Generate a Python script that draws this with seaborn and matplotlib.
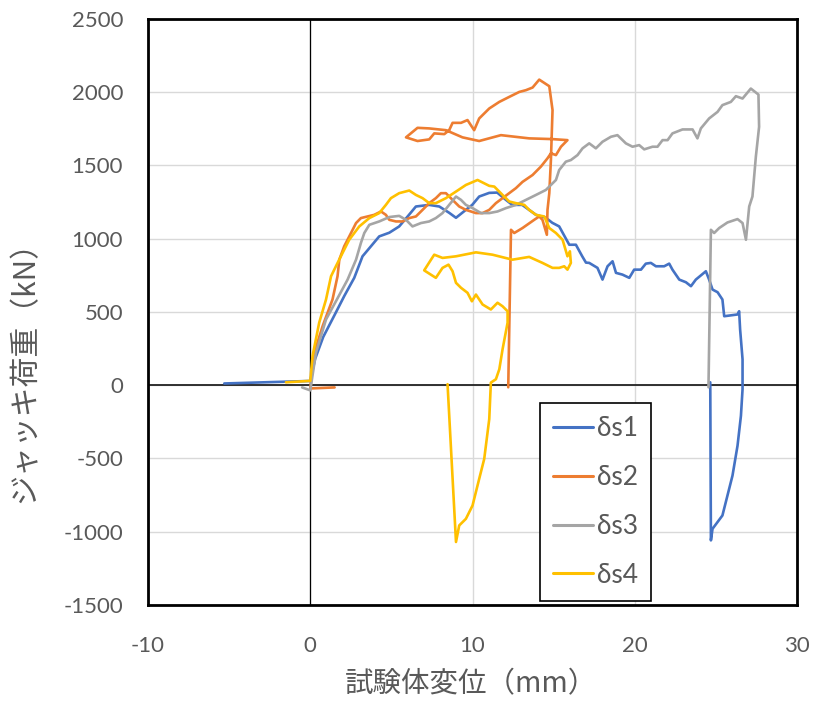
import matplotlib
matplotlib.use('Agg')
import matplotlib.pyplot as plt
import seaborn as sns
import numpy as np
import pandas as pd

# displacement (mm) / jack load (kN)
s1_x = [-5.3, -0.06, 0.0, 0.3, 0.8, 1.5, 2.1, 2.71, 3.22, 4.25, 4.87, 5.48, 6.0, 6.51, 7.33, 7.95, 8.56, 8.98,
        9.59, 9.98, 10.41, 11.03, 11.52, 12.06, 12.45, 13.06, 13.91, 14.52, 14.91, 15.34, 15.96, 16.37, 16.76,
        16.99, 17.19, 17.70, 18.01, 18.32, 18.63, 18.84, 19.24, 19.66, 19.96, 20.38, 20.68, 20.99, 21.30, 21.81,
        22.12, 22.32, 22.74, 23.15, 23.46, 23.76, 24.38, 24.58, 24.79, 25.10, 25.40, 25.51, 26.33, 26.43, 26.49,
        26.64, 26.64, 26.54, 26.33, 26.02, 25.40, 24.79, 24.69, 24.65]
s1_y = [12, 29, 30, 180, 330, 480, 610, 733, 880, 1016, 1041, 1084, 1152, 1220, 1231, 1220, 1177, 1143,
        1197, 1231, 1288, 1313, 1315, 1265, 1231, 1231, 1163, 1143, 1109, 1084, 959, 959, 880,
        837, 835, 801, 721, 812, 846, 767, 755, 733, 789, 789, 830, 835, 812, 812,
        830, 789, 721, 703, 676, 721, 778, 721, 653, 635, 585, 471, 483, 505, 381,
        177, -27, -209, -413, -617, -889, -980, -1059, 20]

s2_x = [1.5, 0.0, 0.25, 0.76, 1.37, 1.68, 1.79, 2.09, 2.51, 2.82, 3.12, 3.53, 3.94, 4.36, 4.66, 4.87, 5.28,
        5.69, 6.10, 6.51, 6.92, 7.33, 7.74, 8.05, 8.36, 8.77, 9.18, 9.59, 10.21, 10.62, 11.03, 11.44, 11.85,
        12.26, 12.67, 13.08, 13.70, 14.21, 14.62, 14.83, 15.14, 15.45, 15.85,
        14.93, 13.49, 11.75, 10.41, 9.38, 8.36, 7.33, 6.61, 5.90,
        6.61, 7.33, 7.64, 8.26, 8.56, 8.77, 9.29, 9.69, 10.10, 10.41, 11.03, 11.65, 12.26, 12.88, 13.29, 13.70,
        14.11, 14.73, 14.93, 14.83, 14.73, 14.62, 14.58, 14.31, 14.11, 13.80, 13.08, 12.57, 12.37, 12.20]
s2_y = [-15, -22, 222, 403, 585, 744, 857, 948, 1039, 1107, 1141, 1152, 1163, 1186, 1163, 1129, 1118,
        1118, 1141, 1152, 1197, 1243, 1277, 1311, 1311, 1265, 1220, 1197, 1175, 1175, 1197, 1243, 1277,
        1311, 1345, 1388, 1435, 1492, 1549, 1583, 1571, 1628, 1673,
        1680, 1685, 1707, 1667, 1692, 1741, 1753, 1757, 1692,
        1667, 1678, 1719, 1714, 1741, 1791, 1791, 1810, 1741, 1821, 1889, 1934, 1968, 2002, 2014, 2032,
        2086, 2041, 1878, 1537, 1311, 1197, 1027, 1129, 1152, 1129, 1073, 1039, 1061, -14]

s3_x = [-0.5, 0.0, 0.35, 0.97, 1.58, 2.30, 2.82, 3.12, 3.33, 3.64, 4.25, 4.87, 5.48, 5.90, 6.30, 6.82, 7.33,
        7.74, 8.15, 8.56, 8.98, 9.29, 9.59, 10.0, 10.52, 11.03, 11.54, 12.06, 12.67, 13.29, 13.91, 14.52,
        15.14, 15.34, 15.75, 16.06, 16.47, 16.78, 17.19, 17.60, 18.01, 18.53, 18.93, 19.45, 19.86, 20.27,
        20.58, 21.09, 21.40, 21.71, 22.02, 22.32, 22.94, 23.56, 23.86, 24.07, 24.58, 25.10, 25.40, 25.92,
        26.23, 26.64, 27.15, 27.62, 27.66, 27.46, 27.25, 27.05, 26.85, 26.64, 26.33, 25.71, 25.20, 24.89,
        24.69, 24.54]
s3_y = [-15, -35, 222, 449, 573, 721, 857, 971, 1039, 1095, 1118, 1148, 1156, 1129, 1084, 1107, 1118,
        1141, 1175, 1231, 1288, 1265, 1231, 1209, 1175, 1175, 1186, 1209, 1231, 1265, 1299, 1333,
        1401, 1469, 1526, 1537, 1571, 1617, 1651, 1617, 1662, 1696, 1707, 1651, 1628, 1639,
        1610, 1628, 1628, 1673, 1673, 1719, 1746, 1746, 1685, 1753, 1821, 1866, 1912, 1934,
        1973, 1957, 2025, 1984, 1764, 1560, 1288, 1220, 993, 1107, 1134, 1111, 1073, 1039,
        1061, -14]

s4_x = [-1.5, 0.0, 0.14, 0.55, 0.97, 1.28, 1.58, 1.99, 2.40, 3.02, 3.64, 4.25, 4.66, 4.97, 5.48, 6.10,
        6.51, 6.92, 7.33, 7.74, 8.36, 8.98, 9.59, 10.31, 11.03, 11.34, 11.85, 12.26, 12.67, 13.19, 13.49,
        13.91, 14.42, 14.73, 15.14, 15.55, 15.85, 16.0, 16.06, 15.85, 15.65, 15.34, 14.93, 14.31, 13.49,
        12.46, 11.23, 10.21, 8.98, 8.15, 7.64, 7.44, 7.02, 7.74, 8.15, 8.52, 8.77, 8.98, 9.29, 9.69, 9.96,
        10.21, 10.62, 11.13, 11.54, 11.85, 12.16, 12.16, 11.85, 11.65, 11.44, 11.13, 11.03, 10.72, 10.41,
        10.0, 9.59, 9.18, 8.98, 8.46]
s4_y = [20, 30, 199, 427, 585, 744, 812, 903, 993, 1084, 1141, 1175, 1231, 1277, 1311, 1329,
        1299, 1277, 1243, 1243, 1277, 1322, 1367, 1401, 1361, 1356, 1299, 1254, 1243, 1231, 1197,
        1163, 1152, 1073, 1039, 993, 880, 914, 835, 789, 812, 801, 801, 835, 876,
        857, 891, 907, 880, 869, 891, 857, 784, 733, 801, 823, 778, 699, 665, 631, 573,
        619, 551, 517, 563, 539, 505, 427, 245, 109, 41, 18, -231, -503, -639,
        -821, -912, -957, -1070, 7]

series = ['δs1', 'δs2', 'δs3', 'δs4']
colors = ['#4472C4', '#ED7D31', '#A5A5A5', '#FFC000']

frames = []
for name, xs, ys in zip(series, [s1_x, s2_x, s3_x, s4_x], [s1_y, s2_y, s3_y, s4_y]):
    frames.append(pd.DataFrame({'disp': xs, 'load': ys, 'series': name}))
df = pd.concat(frames, ignore_index=True)

sns.set_style('white')
plt.rcParams['font.family'] = ['Lato', 'Noto Sans CJK JP', 'DejaVu Sans']
plt.rcParams['axes.unicode_minus'] = False
text_color = '#595959'

fig = plt.figure(figsize=(8.15, 7.08), dpi=100)
ax = fig.add_axes([0.1816, 0.1455, 0.7964, 0.8277])

ax.grid(True, color='#D9D9D9', lw=1)
ax.set_axisbelow(True)
ax.axhline(0, color='#222222', lw=1.3, zorder=1.5)
ax.axvline(0, color='black', lw=0.9, zorder=1.5)

sns.lineplot(data=df, x='disp', y='load', hue='series', palette=colors, sort=False,
             estimator=None, units='series', lw=1.9, ax=ax)

ax.set_xlim(-10, 30)
ax.set_ylim(-1500, 2500)
ax.set_xticks([-10, 0, 10, 20, 30])
ax.set_yticks(np.arange(-1500, 2501, 500))
ax.tick_params(axis='both', labelsize=16, colors=text_color, length=0)
ax.tick_params(axis='y', pad=18)
ax.tick_params(axis='x', pad=22)
for sp in ax.spines.values():
    sp.set_color('black')
    sp.set_linewidth(2)

jp = ['Noto Sans CJK JP', 'DejaVu Sans']
ax.set_xlabel('試験体変位（mm）', fontsize=20.5, color=text_color, family=jp)
ax.set_ylabel('ジャッキ荷重（kN）', fontsize=21.5, color=text_color, family=jp)
ax.xaxis.set_label_coords(0.497, -0.135)
ax.xaxis.label.set_verticalalignment('center')
ax.yaxis.set_label_coords(-0.19, 0.41)
ax.yaxis.label.set_verticalalignment('center')

leg = ax.legend(loc='lower left', bbox_to_anchor=(0.604, 0.007), borderaxespad=0, fontsize=19,
                frameon=True, fancybox=False, edgecolor='black', handlelength=1.5, handletextpad=0.15,
                labelspacing=0.9, borderpad=0.5, labelcolor=text_color)
leg.get_frame().set_linewidth(1.2)
leg.get_frame().set_facecolor('white')
leg.get_frame().set_alpha(1)
for line in leg.get_lines():
    line.set_linewidth(2.2)

fig.savefig('out.png', dpi=100)
